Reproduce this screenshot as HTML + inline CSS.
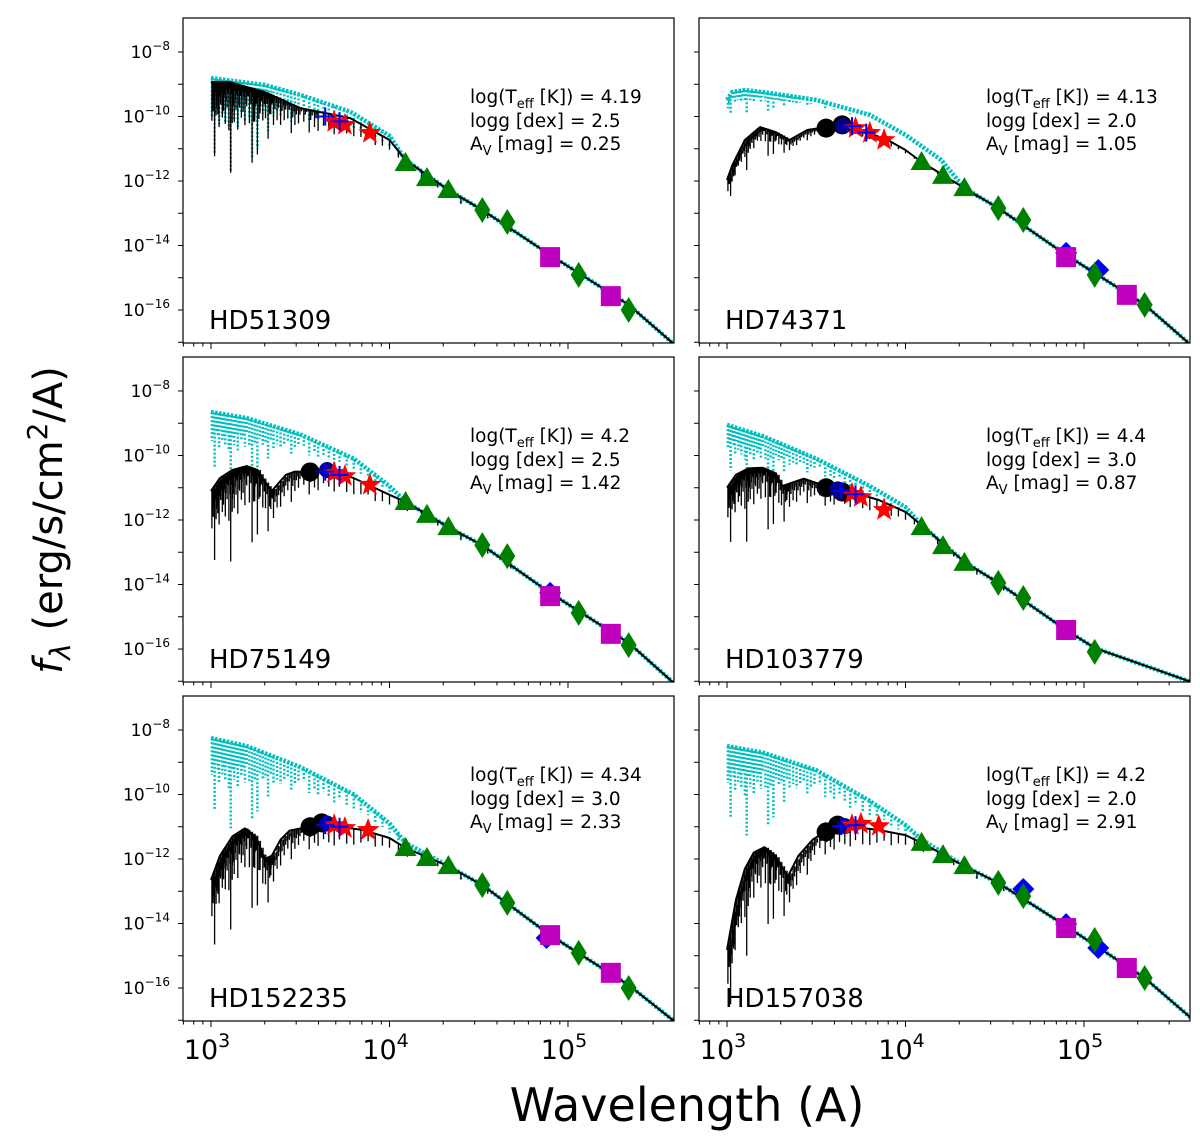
<!DOCTYPE html>
<html><head><meta charset="utf-8"><style>
html,body{margin:0;padding:0;background:#fff;}
svg{display:block;font-family:"DejaVu Sans","Liberation Sans",sans-serif;}
</style></head><body>
<svg id="fig" width="1200" height="1146" viewBox="0 0 1200 1146" xmlns="http://www.w3.org/2000/svg">
<g id="root"></g>
</svg>
<script>
// ---- data ----
const starNames = ["HD51309","HD74371","HD75149","HD103779","HD152235","HD157038"];
const teffVals = ["4.19","4.13","4.2","4.4","4.34","4.2"];
const loggVals = ["2.5","2.0","2.5","3.0","3.0","2.0"];
const avVals = ["0.25","1.05","1.42","0.87","2.33","2.91"];
const yTickExps = [-8,-10,-12,-14,-16];
const xTickExps = [3,4,5];

// model envelopes: [log10 lambda, log10 flux]
const black1 = [[3.0,-8.93],[3.1,-8.93],[3.3,-9.24],[3.5,-9.74],[3.78,-10.05],[4.0,-10.73],[4.09,-11.35],[4.33,-12.28],[4.52,-12.90],[4.9,-14.29],[5.34,-15.84],[5.6,-17.09]];
const black2 = [[3.0,-11.97],[3.03,-11.5],[3.1,-10.73],[3.185,-10.33],[3.27,-10.48],[3.35,-10.73],[3.45,-10.42],[3.6,-10.29],[3.75,-10.42],[3.9,-10.73],[4.0,-11.04],[4.09,-11.41],[4.33,-12.22],[4.52,-12.84],[4.9,-14.29],[5.34,-15.84],[5.6,-17.09]];
const black3 = [[3.0,-11.1],[3.05,-10.7],[3.12,-10.45],[3.2,-10.33],[3.26,-10.45],[3.3,-10.8],[3.34,-11.1],[3.38,-10.85],[3.42,-10.6],[3.47,-10.5],[3.55,-10.51],[3.65,-10.45],[3.8,-10.70],[4.0,-11.22],[4.09,-11.44],[4.33,-12.22],[4.52,-12.78],[4.9,-14.26],[5.34,-15.81],[5.6,-17.09]];
const black4 = [[3.0,-11.0],[3.05,-10.6],[3.12,-10.4],[3.2,-10.38],[3.27,-10.55],[3.31,-10.95],[3.36,-10.85],[3.43,-10.72],[3.5,-10.85],[3.55,-11.0],[3.7,-11.13],[3.85,-11.38],[4.0,-11.75],[4.09,-12.16],[4.33,-13.30],[4.52,-13.95],[4.9,-15.41],[5.06,-15.97],[5.6,-17.02]];
const black5 = [[3.0,-12.65],[3.05,-11.9],[3.12,-11.3],[3.19,-11.05],[3.25,-11.3],[3.3,-12.0],[3.34,-11.9],[3.39,-11.4],[3.44,-11.12],[3.55,-11.0],[3.7,-10.98],[3.85,-11.10],[4.0,-11.35],[4.09,-11.66],[4.33,-12.22],[4.52,-12.81],[4.9,-14.36],[5.34,-15.91],[5.6,-17.05]];
const black6 = [[3.0,-14.82],[3.05,-13.27],[3.1,-12.3],[3.15,-11.8],[3.21,-11.63],[3.27,-11.9],[3.34,-12.55],[3.4,-11.9],[3.48,-11.4],[3.55,-11.16],[3.7,-11.0],[3.85,-11.10],[4.0,-11.26],[4.09,-11.50],[4.33,-12.22],[4.52,-12.74],[4.9,-14.08],[5.34,-15.69],[5.6,-16.93]];
const cyan1 = [[3.0,-8.81],[3.3,-9.02],[3.5,-9.33],[3.78,-9.85],[4.0,-10.6],[4.09,-11.35],[4.33,-12.28],[4.52,-12.90],[4.9,-14.29],[5.34,-15.84],[5.6,-17.09]];
const cyan2 = [[3.0,-9.49],[3.03,-9.24],[3.1,-9.18],[3.2,-9.24],[3.5,-9.49],[3.8,-9.95],[4.0,-10.57],[4.2,-11.35],[4.33,-12.22],[4.52,-12.84],[4.9,-14.29],[5.34,-15.84],[5.6,-17.09]];
const cyan3 = [[3.0,-8.65],[3.2,-8.84],[3.5,-9.35],[3.8,-10.1],[4.0,-10.95],[4.09,-11.44],[4.33,-12.22],[4.52,-12.78],[4.9,-14.26],[5.34,-15.81],[5.6,-17.09]];
const cyan4 = [[3.0,-9.05],[3.2,-9.4],[3.5,-10.1],[3.8,-10.95],[4.0,-11.6],[4.09,-12.16],[4.33,-13.30],[4.52,-13.95],[4.9,-15.41],[5.06,-15.97],[5.6,-17.02]];
const cyan5 = [[3.0,-8.25],[3.2,-8.5],[3.5,-9.15],[3.8,-10.0],[4.0,-10.9],[4.09,-11.5],[4.33,-12.22],[4.52,-12.81],[4.9,-14.36],[5.34,-15.91],[5.6,-17.05]];
const cyan6 = [[3.0,-8.50],[3.2,-8.7],[3.5,-9.25],[3.8,-10.2],[4.0,-10.95],[4.09,-11.4],[4.33,-12.22],[4.52,-12.74],[4.9,-14.08],[5.34,-15.69],[5.6,-16.93]];

// absorption lines (log lambda, depth in dex) shared; per-panel depth scale
const lineLam = [3.005,3.012,3.02,3.03,3.038,3.045,3.055,3.063,3.07,3.08,3.09,3.1,3.11,3.12,3.13,3.14,3.15,3.16,3.17,3.18,3.19,3.2,3.215,3.23,3.245,3.26,3.275,3.29,3.305,3.32,3.335,3.35,3.37,3.39,3.41,3.43,3.45,3.47,3.49,3.52,3.55,3.58,3.6,3.63,3.66,3.69,3.72,3.76,3.8,3.84,3.88,3.92,3.96,4.0,4.05,4.1,4.18,4.27,4.4,4.55,4.68];
const lineDepth = [1.2,0.9,2.3,0.8,1.0,1.4,0.7,1.1,0.9,1.3,0.8,1.5,2.8,0.9,1.2,0.8,1.4,0.7,1.0,0.8,1.2,0.6,1.1,2.3,1.0,2.0,0.7,0.9,0.8,1.4,0.6,0.9,0.7,0.8,0.6,0.5,0.9,0.6,0.5,0.4,0.7,0.5,0.6,0.4,0.5,0.6,0.4,0.5,0.5,0.4,0.3,0.4,0.3,0.3,0.2,0.25,0.2,0.15,0.2,0.15,0.1];
const blackLineScale = [1.0,0.35,1.0,0.8,1.0,1.0];
const cyanLineScale = [1.0,0.25,0.75,0.6,0.95,0.95];

// photometry: [log lambda, log flux]
const circ = [[],[[3.555,-10.36],[3.645,-10.26]],[[3.555,-10.51]],[[3.555,-11.0],[3.645,-11.13]],[[3.555,-11.0],[3.62,-10.88]],[[3.555,-11.16],[3.62,-10.95]]];
const blueCirc = [[],[[3.65,-10.3]],[[3.65,-10.45]],[[3.62,-11.05]],[[3.65,-10.9]],[[3.66,-10.98]]];
const stars = [[[3.69,-10.17],[3.75,-10.26],[3.89,-10.51]],[[3.72,-10.36],[3.80,-10.51],[3.88,-10.73]],[[3.69,-10.54],[3.75,-10.64],[3.89,-10.91]],[[3.70,-11.19],[3.75,-11.29],[3.88,-11.69]],[[3.69,-10.95],[3.75,-11.04],[3.88,-11.10]],[[3.70,-10.95],[3.75,-10.91],[3.85,-10.98]]];
const crosses = [[[3.64,-10.0],[3.72,-10.15]],[[3.70,-10.3],[3.78,-10.5]],[[3.64,-10.5],[3.72,-10.6]],[[3.64,-11.1],[3.72,-11.2]],[[3.64,-10.95],[3.72,-11.0]],[[3.64,-10.98],[3.72,-10.95]]];
const tris = [[[4.09,-11.44],[4.21,-11.91],[4.33,-12.28]],[[4.09,-11.41],[4.21,-11.84],[4.33,-12.22]],[[4.09,-11.44],[4.21,-11.84],[4.33,-12.22]],[[4.09,-12.22],[4.21,-12.81],[4.33,-13.33]],[[4.09,-11.66],[4.21,-11.97],[4.33,-12.22]],[[4.09,-11.50],[4.21,-11.88],[4.33,-12.22]]];
const gDiam = [[[4.52,-12.90],[4.66,-13.27],[5.06,-14.91],[5.34,-16.0]],[[4.52,-12.84],[4.66,-13.21],[5.06,-14.91],[5.34,-15.84]],[[4.52,-12.78],[4.66,-13.12],[5.06,-14.88],[5.34,-15.88]],[[4.52,-13.95],[4.66,-14.42],[5.06,-16.09]],[[4.52,-12.81],[4.66,-13.36],[5.06,-14.91],[5.34,-16.0]],[[4.52,-12.74],[4.66,-13.15],[5.06,-14.51],[5.34,-15.69]]];
const bDiam = [[],[[4.9,-14.23],[5.08,-14.76]],[[4.9,-14.26]],[],[[4.88,-14.45]],[[4.66,-12.93],[4.9,-14.02],[5.08,-14.76]]];
const mSq = [[[4.9,-14.36],[5.24,-15.57]],[[4.9,-14.36],[5.24,-15.53]],[[4.9,-14.36],[5.24,-15.53]],[[4.9,-15.41]],[[4.9,-14.36],[5.24,-15.53]],[[4.9,-14.14],[5.24,-15.38]]];

const blacks=[black1,black2,black3,black4,black5,black6];
const cyans=[cyan1,cyan2,cyan3,cyan4,cyan5,cyan6];

// ---- layout ----
const NS="http://www.w3.org/2000/svg";
const root=document.getElementById('root');
const colX=[183,699], rowY=[18,357,696], PW=491, PH=325;
const XMIN=2.843, XMAX=5.594, YMAX=-6.946, YMIN=-17.023;
function mk(tag,attrs,parent){const e=document.createElementNS(NS,tag);for(const k in attrs)e.setAttribute(k,attrs[k]);(parent||root).appendChild(e);return e;}
function interp(arr,x){if(x<=arr[0][0])return arr[0][1];for(let i=1;i<arr.length;i++){if(x<=arr[i][0]){const t=(x-arr[i-1][0])/(arr[i][0]-arr[i-1][0]);return arr[i-1][1]+t*(arr[i][1]-arr[i-1][1]);}}return arr[arr.length-1][1];}

for(let p=0;p<6;p++){
  const c=p%2, r=Math.floor(p/2);
  const px=colX[c], py=rowY[r];
  const sx=v=>px+(v-XMIN)/(XMAX-XMIN)*PW;
  const sy=v=>py+(YMAX-v)/(YMAX-YMIN)*PH;
  const g=mk('g',{});
  
  
  const defs=mk('defs',{},g);
  const cp=mk('clipPath',{id:'cp'+p},defs);
  mk('rect',{x:px,y:py,width:PW,height:PH},cp);
  const plot=mk('g',{'clip-path':'url(#cp'+p+')'},g);
  // cyan model
  const cy=cyans[p];
  let d='';
  cy.forEach((q,i)=>{d+=(i?'L':'M')+sx(q[0]).toFixed(1)+','+sy(q[1]).toFixed(1);});
  const cl=mk('path',{d:d,fill:'none',stroke:'#00bfbf','stroke-width':4.5,'stroke-dasharray':'2.5,1.5'},plot);
  
  
  let ds='';
  lineLam.forEach((l,i)=>{const dep=lineDepth[i]*cyanLineScale[p];if(dep<0.15)return;const y0=interp(cy,l);ds+='M'+sx(l).toFixed(1)+','+sy(y0).toFixed(1)+'V'+sy(y0-dep).toFixed(1);});
  const cs=mk('path',{d:ds,fill:'none',stroke:'#00bfbf','stroke-width':2.5,'stroke-dasharray':'2,2'},plot);
  
  
  // black model
  const bk=blacks[p];
  d='';
  bk.forEach((q,i)=>{d+=(i?'L':'M')+sx(q[0]).toFixed(1)+','+sy(q[1]).toFixed(1);});
  const bl=mk('path',{d:d,fill:'none',stroke:'#000','stroke-width':2,'stroke-linejoin':'round'},plot);
  
  
  ds='';
  lineLam.forEach((l,i)=>{const dep=lineDepth[i]*blackLineScale[p];const y0=interp(bk,l);ds+='M'+sx(l).toFixed(1)+','+sy(y0).toFixed(1)+'V'+sy(y0-dep).toFixed(1);
    if(l<3.6){ds+='M'+(sx(l)+1.5).toFixed(1)+','+sy(y0).toFixed(1)+'V'+sy(y0-dep*0.45).toFixed(1);
    ds+='M'+(sx(l)+3).toFixed(1)+','+sy(y0).toFixed(1)+'V'+sy(y0-dep*0.25).toFixed(1);}});
  const bs=mk('path',{d:ds,fill:'none',stroke:'#000','stroke-width':1.3},plot);
  
  
  // markers
  circ[p].forEach(q=>{const e=mk('circle',{cx:sx(q[0]),cy:sy(q[1]),r:9.5,fill:'#000'},plot);
    
    });
  blueCirc[p].forEach(q=>{const e=mk('circle',{cx:sx(q[0]),cy:sy(q[1]),r:8,fill:'#00008b'},plot);
    
    });
  stars[p].forEach(q=>{const X=sx(q[0]),Y=sy(q[1]);let pts='';for(let k=0;k<10;k++){const a=-Math.PI/2+k*Math.PI/5,rr=k%2?5:12;pts+=(X+rr*Math.cos(a)).toFixed(1)+','+(Y+rr*Math.sin(a)).toFixed(1)+' ';}
    const e=mk('polygon',{points:pts,fill:'#ff0000'},plot);
    
    });
  crosses[p].forEach(q=>{const X=sx(q[0]),Y=sy(q[1]);const e=mk('path',{d:`M${X-9},${Y}H${X+9}M${X},${Y-9}V${Y+9}`,stroke:'#0000ff','stroke-width':2},plot);
    
    });
  tris[p].forEach(q=>{const X=sx(q[0]),Y=sy(q[1]);const e=mk('polygon',{points:`${X},${Y-11} ${X-11},${Y+8} ${X+11},${Y+8}`,fill:'#008000'},plot);
    
    });
  bDiam[p].forEach(q=>{const X=sx(q[0]),Y=sy(q[1]);const e=mk('polygon',{points:`${X},${Y-11} ${X+11},${Y} ${X},${Y+11} ${X-11},${Y}`,fill:'#0000ff'},plot);
    
    });
  mSq[p].forEach(q=>{const X=sx(q[0]),Y=sy(q[1]);const e=mk('rect',{x:X-10,y:Y-10,width:20,height:20,fill:'#bf00bf'},plot);
    
    });
  gDiam[p].forEach(q=>{const X=sx(q[0]),Y=sy(q[1]);const e=mk('polygon',{points:`${X},${Y-13} ${X+8},${Y} ${X},${Y+13} ${X-8},${Y}`,fill:'#008000'},plot);
    
    });
  // frame
  const fr=mk('rect',{x:px,y:py,width:PW,height:PH,fill:'none',stroke:'#000','stroke-width':1.2},g);
  
  
  // y ticks
  for(let e=-8;e>=-17;e--){const y=sy(e);mk('line',{x1:px-5,x2:px,y1:y,y2:y,stroke:'#000','stroke-width':1},g);}
  if(c===0){yTickExps.forEach(e=>{const t=mk('text',{x:px-13,y:sy(e)+6,'font-size':17,'text-anchor':'end'},g);
    
    
    t.innerHTML='10<tspan dy="-8" font-size="12">\u2212'+(-e)+'</tspan>';});}
  // x ticks
  for(let e=2;e<=5;e++){for(let m=1;m<10;m++){const v=e+Math.log10(m);if(v<XMIN||v>XMAX)continue;const x=sx(v);mk('line',{x1:x,x2:x,y1:py+PH,y2:py+PH+(m===1?6:3.5),stroke:'#000','stroke-width':1},g);}}
  if(r===2){xTickExps.forEach(e=>{const t=mk('text',{x:sx(e)-4,y:py+PH+38,'font-size':27,'text-anchor':'middle'},g);
    
    
    t.innerHTML='10<tspan dy="-12" font-size="19">'+e+'</tspan>';});}
  // annotation
  const ax=px+287, ay=py+85;
  const a1=mk('text',{x:ax,y:ay,'font-size':18.5},g);
  
  
  a1.innerHTML='log(T<tspan dy="5" font-size="13">eff</tspan><tspan dy="-5"> [K]) = '+teffVals[p]+'</tspan>';
  const a2=mk('text',{x:ax,y:ay+24,'font-size':18.5},g);
  
  
  a2.textContent='logg [dex] = '+loggVals[p];
  const a3=mk('text',{x:ax,y:ay+47,'font-size':18.5},g);
  
  
  a3.innerHTML='A<tspan dy="5" font-size="13">V</tspan><tspan dy="-5"> [mag] = '+avVals[p]+'</tspan>';
  const nm=mk('text',{x:px+26,y:py+311,'font-size':26},g);
  
  
  nm.textContent=starNames[p];
}
const xt=mk('text',{x:687,y:1121,'font-size':46,'text-anchor':'middle'});


xt.textContent='Wavelength (A)';
const yt=mk('text',{x:0,y:0,'font-size':40,'text-anchor':'middle',transform:'translate(62,520) rotate(-90)'});


yt.innerHTML='<tspan font-style="italic">f</tspan><tspan dy="8" font-size="28" font-style="italic">λ</tspan><tspan dy="-8"> (erg/s/cm</tspan><tspan dy="-15" font-size="28">2</tspan><tspan dy="15">/A)</tspan>';
</script>
</body></html>
